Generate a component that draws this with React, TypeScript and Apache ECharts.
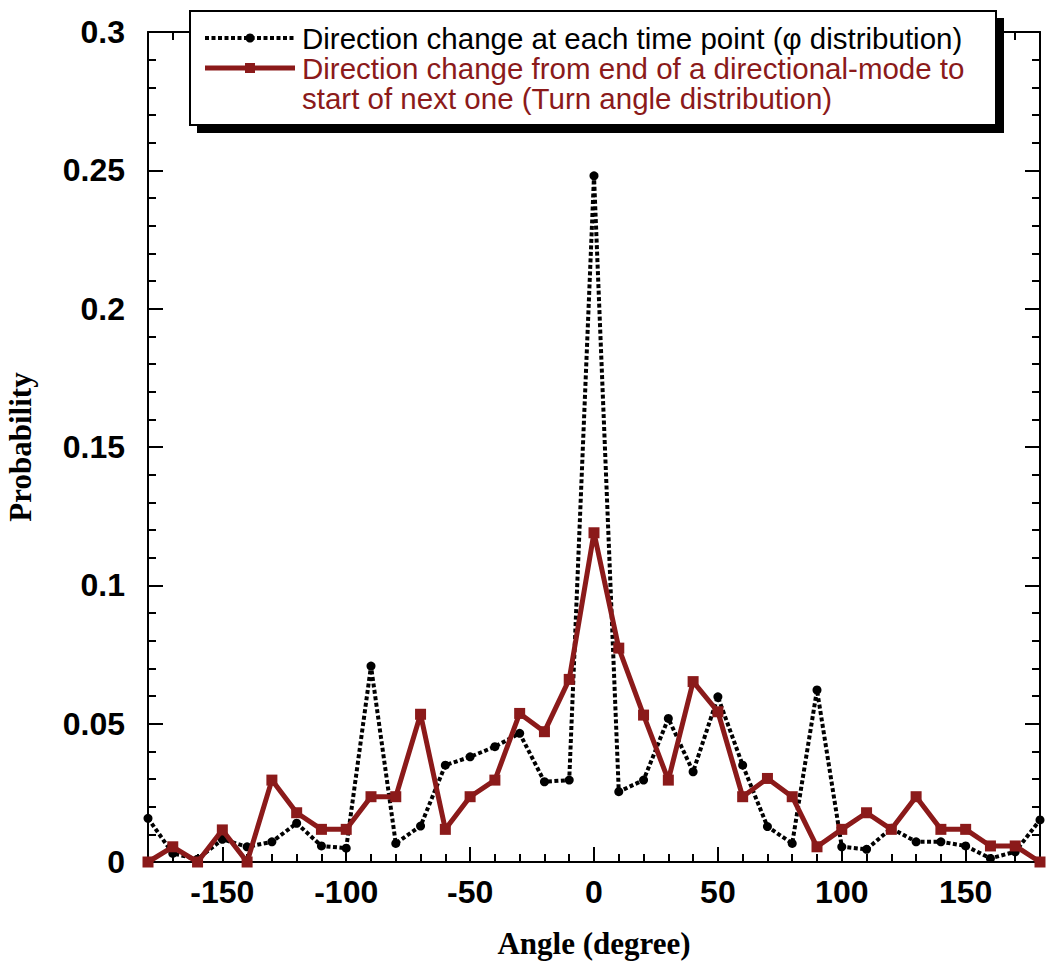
import React, { useEffect, useRef } from "react";
import * as echarts from "echarts";

const angles = [
  -180, -170, -160, -150, -140, -130, -120, -110, -100, -90, -80, -70, -60, -50, -40, -30, -20, -10,
  0, 10, 20, 30, 40, 50, 60, 70, 80, 90, 100, 110, 120, 130, 140, 150, 160, 170, 180,
];

const phiDistribution = [
  0.0158, 0.0031, 0.001, 0.0082, 0.0055, 0.0073, 0.014, 0.0058, 0.005, 0.0708, 0.0067, 0.013, 0.035,
  0.038, 0.0417, 0.0465, 0.029, 0.0296, 0.248, 0.0254, 0.0296, 0.0519, 0.0326, 0.0597, 0.035, 0.0128,
  0.0067, 0.0622, 0.0055, 0.0046, 0.0122, 0.0073, 0.0073, 0.0058, 0.0013, 0.0037, 0.0152,
];

const turnAngleDistribution = [
  0, 0.0055, 0, 0.0116, 0, 0.0296, 0.0178, 0.0118, 0.0118, 0.0236, 0.0236, 0.0534, 0.0118, 0.0236,
  0.0296, 0.0537, 0.0471, 0.066, 0.119, 0.0773, 0.0531, 0.0296, 0.0652, 0.0543, 0.0236, 0.0302,
  0.0236, 0.0055, 0.0118, 0.0178, 0.0118, 0.0236, 0.0118, 0.0118, 0.0058, 0.0058, 0,
];

const majorXTicks = [-150, -100, -50, 0, 50, 100, 150];

const seriesNames = [
  "Direction change at each time point (φ distribution)",
  "Direction change from end of a directional-mode to",
  "start of next one (Turn angle distribution)",
];

const RED = "#8b1a1a";

const GRID_LEFT = 148;
const GRID_RIGHT = 10;
const GRID_TOP = 32;
const GRID_BOTTOM = 102;
const W = 1050;
const H = 964;

export default function App() {
  const ref = useRef<HTMLDivElement>(null);

  useEffect(() => {
    if (!ref.current) return;
    const chart = echarts.init(ref.current, undefined, { renderer: "svg" });

    const gridW = W - GRID_LEFT - GRID_RIGHT;
    const gridH = H - GRID_TOP - GRID_BOTTOM;

    const tickStyle = { color: "#000", width: 2 };
    const labelFont = {
      color: "#000",
      fontFamily: "Liberation Sans, Arial, sans-serif",
      fontWeight: "bold",
      fontSize: 32,
    };
    const titleFont = {
      fontFamily: "Liberation Serif, Times New Roman, serif",
      fontWeight: "bold",
      fontSize: 31,
      color: "#000",
    };

    // frame axes are all "top"/"right" axes; the bottom/left ones are shifted with a negative offset
    const minorX = (offset: number, inside: boolean) => ({
      type: "value",
      min: -180,
      max: 180,
      interval: 10,
      position: "top",
      offset,
      axisLine: { show: true, onZero: false, lineStyle: tickStyle },
      axisTick: { show: true, inside, length: 8, lineStyle: tickStyle },
      axisLabel: { show: false },
      splitLine: { show: false },
    });
    const majorX = (offset: number, inside: boolean) => ({
      type: "value",
      min: -180,
      max: 180,
      position: "top",
      offset,
      axisLine: { show: false, onZero: false },
      axisTick: {
        show: true,
        inside,
        length: 15,
        customValues: majorXTicks,
        lineStyle: tickStyle,
      },
      axisLabel: { show: false },
      splitLine: { show: false },
    });
    const labelX = {
      type: "value",
      min: -180,
      max: 180,
      interval: 10,
      position: "bottom",
      axisLine: { show: false, onZero: false },
      axisTick: { show: false },
      axisLabel: {
        show: true,
        formatter: (v: number) => (v % 50 === 0 ? String(v) : ""),
        margin: 14,
        ...labelFont,
      },
      splitLine: { show: false },
      name: "Angle (degree)",
      nameLocation: "middle",
      nameGap: 66,
      nameTextStyle: titleFont,
    };
    const yAx = (offset: number, inside: boolean) => ({
      type: "value",
      min: 0,
      max: 0.3,
      interval: 0.05,
      position: "right",
      offset,
      axisLine: { show: true, onZero: false, lineStyle: tickStyle },
      axisTick: { show: true, inside, length: 15, lineStyle: tickStyle },
      minorTick: { show: true, splitNumber: 5, length: 8, lineStyle: tickStyle },
      axisLabel: { show: false },
      splitLine: { show: false },
      minorSplitLine: { show: false },
    });
    const labelY = {
      type: "value",
      min: 0,
      max: 0.3,
      interval: 0.05,
      position: "left",
      axisLine: { show: false, onZero: false },
      axisTick: { show: false },
      axisLabel: { show: true, margin: 23, ...labelFont },
      splitLine: { show: false },
      name: "Probability",
      nameLocation: "middle",
      nameGap: 112,
      nameRotate: 90,
      nameTextStyle: titleFont,
    };

    const font = "29.5px 'Liberation Sans', Arial, sans-serif";

    chart.setOption({
      animation: false,
      backgroundColor: "#fff",
      grid: {
        left: GRID_LEFT,
        right: GRID_RIGHT,
        top: GRID_TOP,
        bottom: GRID_BOTTOM,
        containLabel: false,
        outerBoundsMode: "none",
      },
      xAxis: [
        labelX,
        minorX(-gridH, false),
        majorX(-gridH, false),
        minorX(0, true),
        majorX(0, true),
      ],
      yAxis: [labelY, yAx(-gridW, false), yAx(0, true)],
      series: [
        {
          name: seriesNames[0],
          type: "line",
          xAxisIndex: 0,
          yAxisIndex: 0,
          data: angles.map((a, i) => [a, phiDistribution[i]]),
          symbol: "circle",
          symbolSize: 9,
          itemStyle: { color: "#000" },
          lineStyle: { color: "#000", width: 4, type: [4, 2.5] },
          z: 2,
        },
        {
          name: seriesNames[1] + " " + seriesNames[2],
          type: "line",
          xAxisIndex: 0,
          yAxisIndex: 0,
          data: angles.map((a, i) => [a, turnAngleDistribution[i]]),
          symbol: "rect",
          symbolSize: 11,
          itemStyle: { color: RED },
          lineStyle: { color: RED, width: 5 },
          z: 3,
        },
      ],
      graphic: [
        {
          type: "group",
          z: 100,
          children: [
            { type: "rect", shape: { x: 197, y: 18, width: 807, height: 115 }, style: { fill: "#000" }, z: 100 },
            {
              type: "rect",
              shape: { x: 190, y: 11, width: 806, height: 114 },
              style: { fill: "#fff", stroke: "#000", lineWidth: 2 },
              z: 101,
            },
            {
              type: "line",
              shape: { x1: 205, y1: 38, x2: 295, y2: 38 },
              style: { stroke: "#000", lineWidth: 4, lineDash: [4, 2.5] },
              z: 102,
            },
            { type: "circle", shape: { cx: 250, cy: 38, r: 4.5 }, style: { fill: "#000" }, z: 103 },
            {
              type: "line",
              shape: { x1: 205, y1: 68, x2: 295, y2: 68 },
              style: { stroke: RED, lineWidth: 5 },
              z: 102,
            },
            { type: "rect", shape: { x: 245, y: 63, width: 10, height: 10 }, style: { fill: RED }, z: 103 },
            {
              type: "text",
              x: 302,
              y: 38,
              style: { text: seriesNames[0], font, fill: "#000", verticalAlign: "middle" },
              z: 103,
            },
            {
              type: "text",
              x: 302,
              y: 68,
              style: { text: seriesNames[1], font, fill: RED, verticalAlign: "middle" },
              z: 103,
            },
            {
              type: "text",
              x: 302,
              y: 98,
              style: { text: seriesNames[2], font, fill: RED, verticalAlign: "middle" },
              z: 103,
            },
          ],
        },
      ],
    } as any);

    return () => chart.dispose();
  }, []);

  return (
    <div
      ref={ref}
      style={{ position: "absolute", left: 0, top: 0, width: W, height: H, background: "#fff" }}
    />
  );
}
